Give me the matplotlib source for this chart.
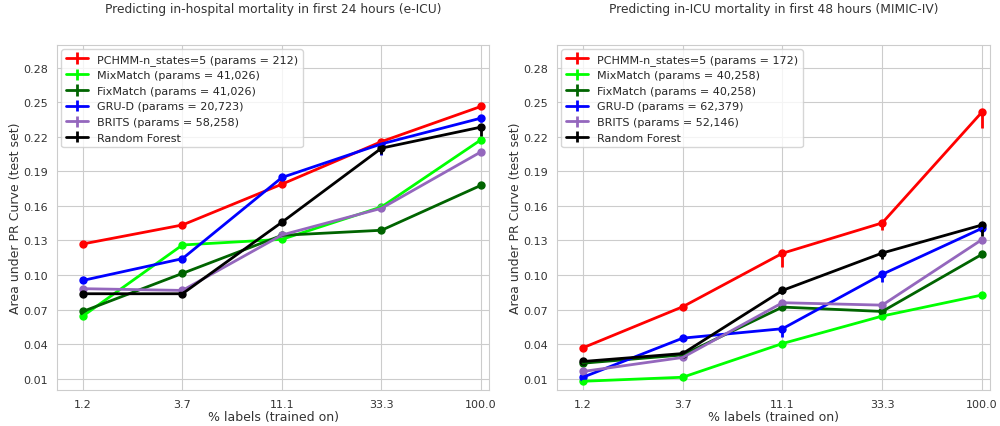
import numpy as np
import matplotlib
matplotlib.use('Agg')
import matplotlib.pyplot as plt
import seaborn as sns

sns.set_style('whitegrid')
plt.rcParams['font.family'] = ['DejaVu Sans']

pct_labels = ['1.2', '3.7', '11.1', '33.3', '100.0']
methods = ['PCHMM-n_states=5', 'MixMatch', 'FixMatch', 'GRU-D', 'BRITS', 'Random Forest']
colors = ['red', 'lime', 'darkgreen', 'blue', 'tab:purple', 'black']

# e-ICU panel
eicu_params = ['212', '41,026', '41,026', '20,723', '58,258', None]
eicu_vals = [
    [0.127, 0.1435, 0.179, 0.216, 0.2466],   # PCHMM
    [0.0643, 0.1261, 0.1310, 0.1592, 0.2176],  # MixMatch
    [0.0683, 0.1014, 0.1345, 0.1389, 0.178],   # FixMatch
    [0.0953, 0.1142, 0.1848, 0.214, 0.2364],   # GRU-D
    [0.0881, 0.0866, 0.1348, 0.158, 0.2071],   # BRITS
    [0.0837, 0.0837, 0.1459, 0.2103, 0.2286],  # RF
]
eicu_err = [
    [0.0, 0.0, 0.002, 0.003, 0.002],
    [0.0, 0.0, 0.0, 0.0, 0.0],
    [0.0, 0.0, 0.0, 0.0, 0.0],
    [0.0, 0.0, 0.0, 0.010, 0.003],
    [0.0, 0.0, 0.0, 0.0, 0.0],
    [0.0, 0.0, 0.0, 0.005, 0.008],
]

# MIMIC-IV panel
mimic_params = ['172', '40,258', '40,258', '62,379', '52,146', None]
mimic_vals = [
    [0.0367, 0.0724, 0.1189, 0.1453, 0.2417],
    [0.0076, 0.0111, 0.0404, 0.0643, 0.0826],
    [0.0233, 0.0305, 0.0721, 0.0683, 0.118],
    [0.0111, 0.0451, 0.0533, 0.1006, 0.1406],
    [0.0161, 0.0283, 0.0759, 0.0738, 0.1308],
    [0.0248, 0.0317, 0.0866, 0.1191, 0.1435],
]
mimic_err = [
    [0.0, 0.0, 0.012, 0.006, 0.014],
    [0.0, 0.0, 0.0, 0.0, 0.0],
    [0.0, 0.0, 0.0, 0.0, 0.0],
    [0.0, 0.0, 0.007, 0.007, 0.003],
    [0.0, 0.0, 0.0, 0.0, 0.0],
    [0.0, 0.0, 0.003, 0.005, 0.010],
]

titles = ['Predicting in-hospital mortality in first 24 hours (e-ICU)',
          'Predicting in-ICU mortality in first 48 hours (MIMIC-IV)']

fig = plt.figure(figsize=(10, 4.27), dpi=100)
ax1 = fig.add_axes([0.057, 0.0843, 0.432, 0.808])
ax2 = fig.add_axes([0.557, 0.0843, 0.433, 0.808])

x = np.arange(len(pct_labels))
panels = [(ax1, eicu_vals, eicu_err, eicu_params),
          (ax2, mimic_vals, mimic_err, mimic_params)]

for k, (ax, vals, errs, params) in enumerate(panels):
    for i in range(len(methods)):
        if params[i] is None:
            lab = methods[i]
        else:
            lab = '%s (params = %s)' % (methods[i], params[i])
        e = np.array(errs[i])
        ax.errorbar(x, vals[i], yerr=[e, np.zeros_like(e)], color=colors[i],
                    linewidth=2, elinewidth=2, capsize=0, label=lab)
        ax.plot(x, vals[i], 'o', color=colors[i], markersize=5)
    ax.set_xticks(x)
    ax.set_xticklabels(pct_labels)
    ax.set_xlim(-0.26, 4.08)
    ax.set_ylim(0.0, 0.30)
    yt = np.arange(0.01, 0.29, 0.03)
    ax.set_yticks(yt)
    ax.set_yticklabels(['%.2f' % v for v in yt])
    ax.tick_params(labelsize=8, colors='#333333', pad=3)
    ax.set_xlabel('% labels (trained on)', fontsize=9, color='#333333', labelpad=1)
    ax.set_ylabel('Area under PR Curve (test set)', fontsize=9, color='#333333', labelpad=1)
    ax.set_title(titles[k], fontsize=8.8, color='#333333', pad=24)
    ax.legend(loc='upper left', fontsize=8, frameon=True, handlelength=2.0,
              borderaxespad=0.4, labelspacing=0.5)

fig.savefig('out.png', dpi=100)
